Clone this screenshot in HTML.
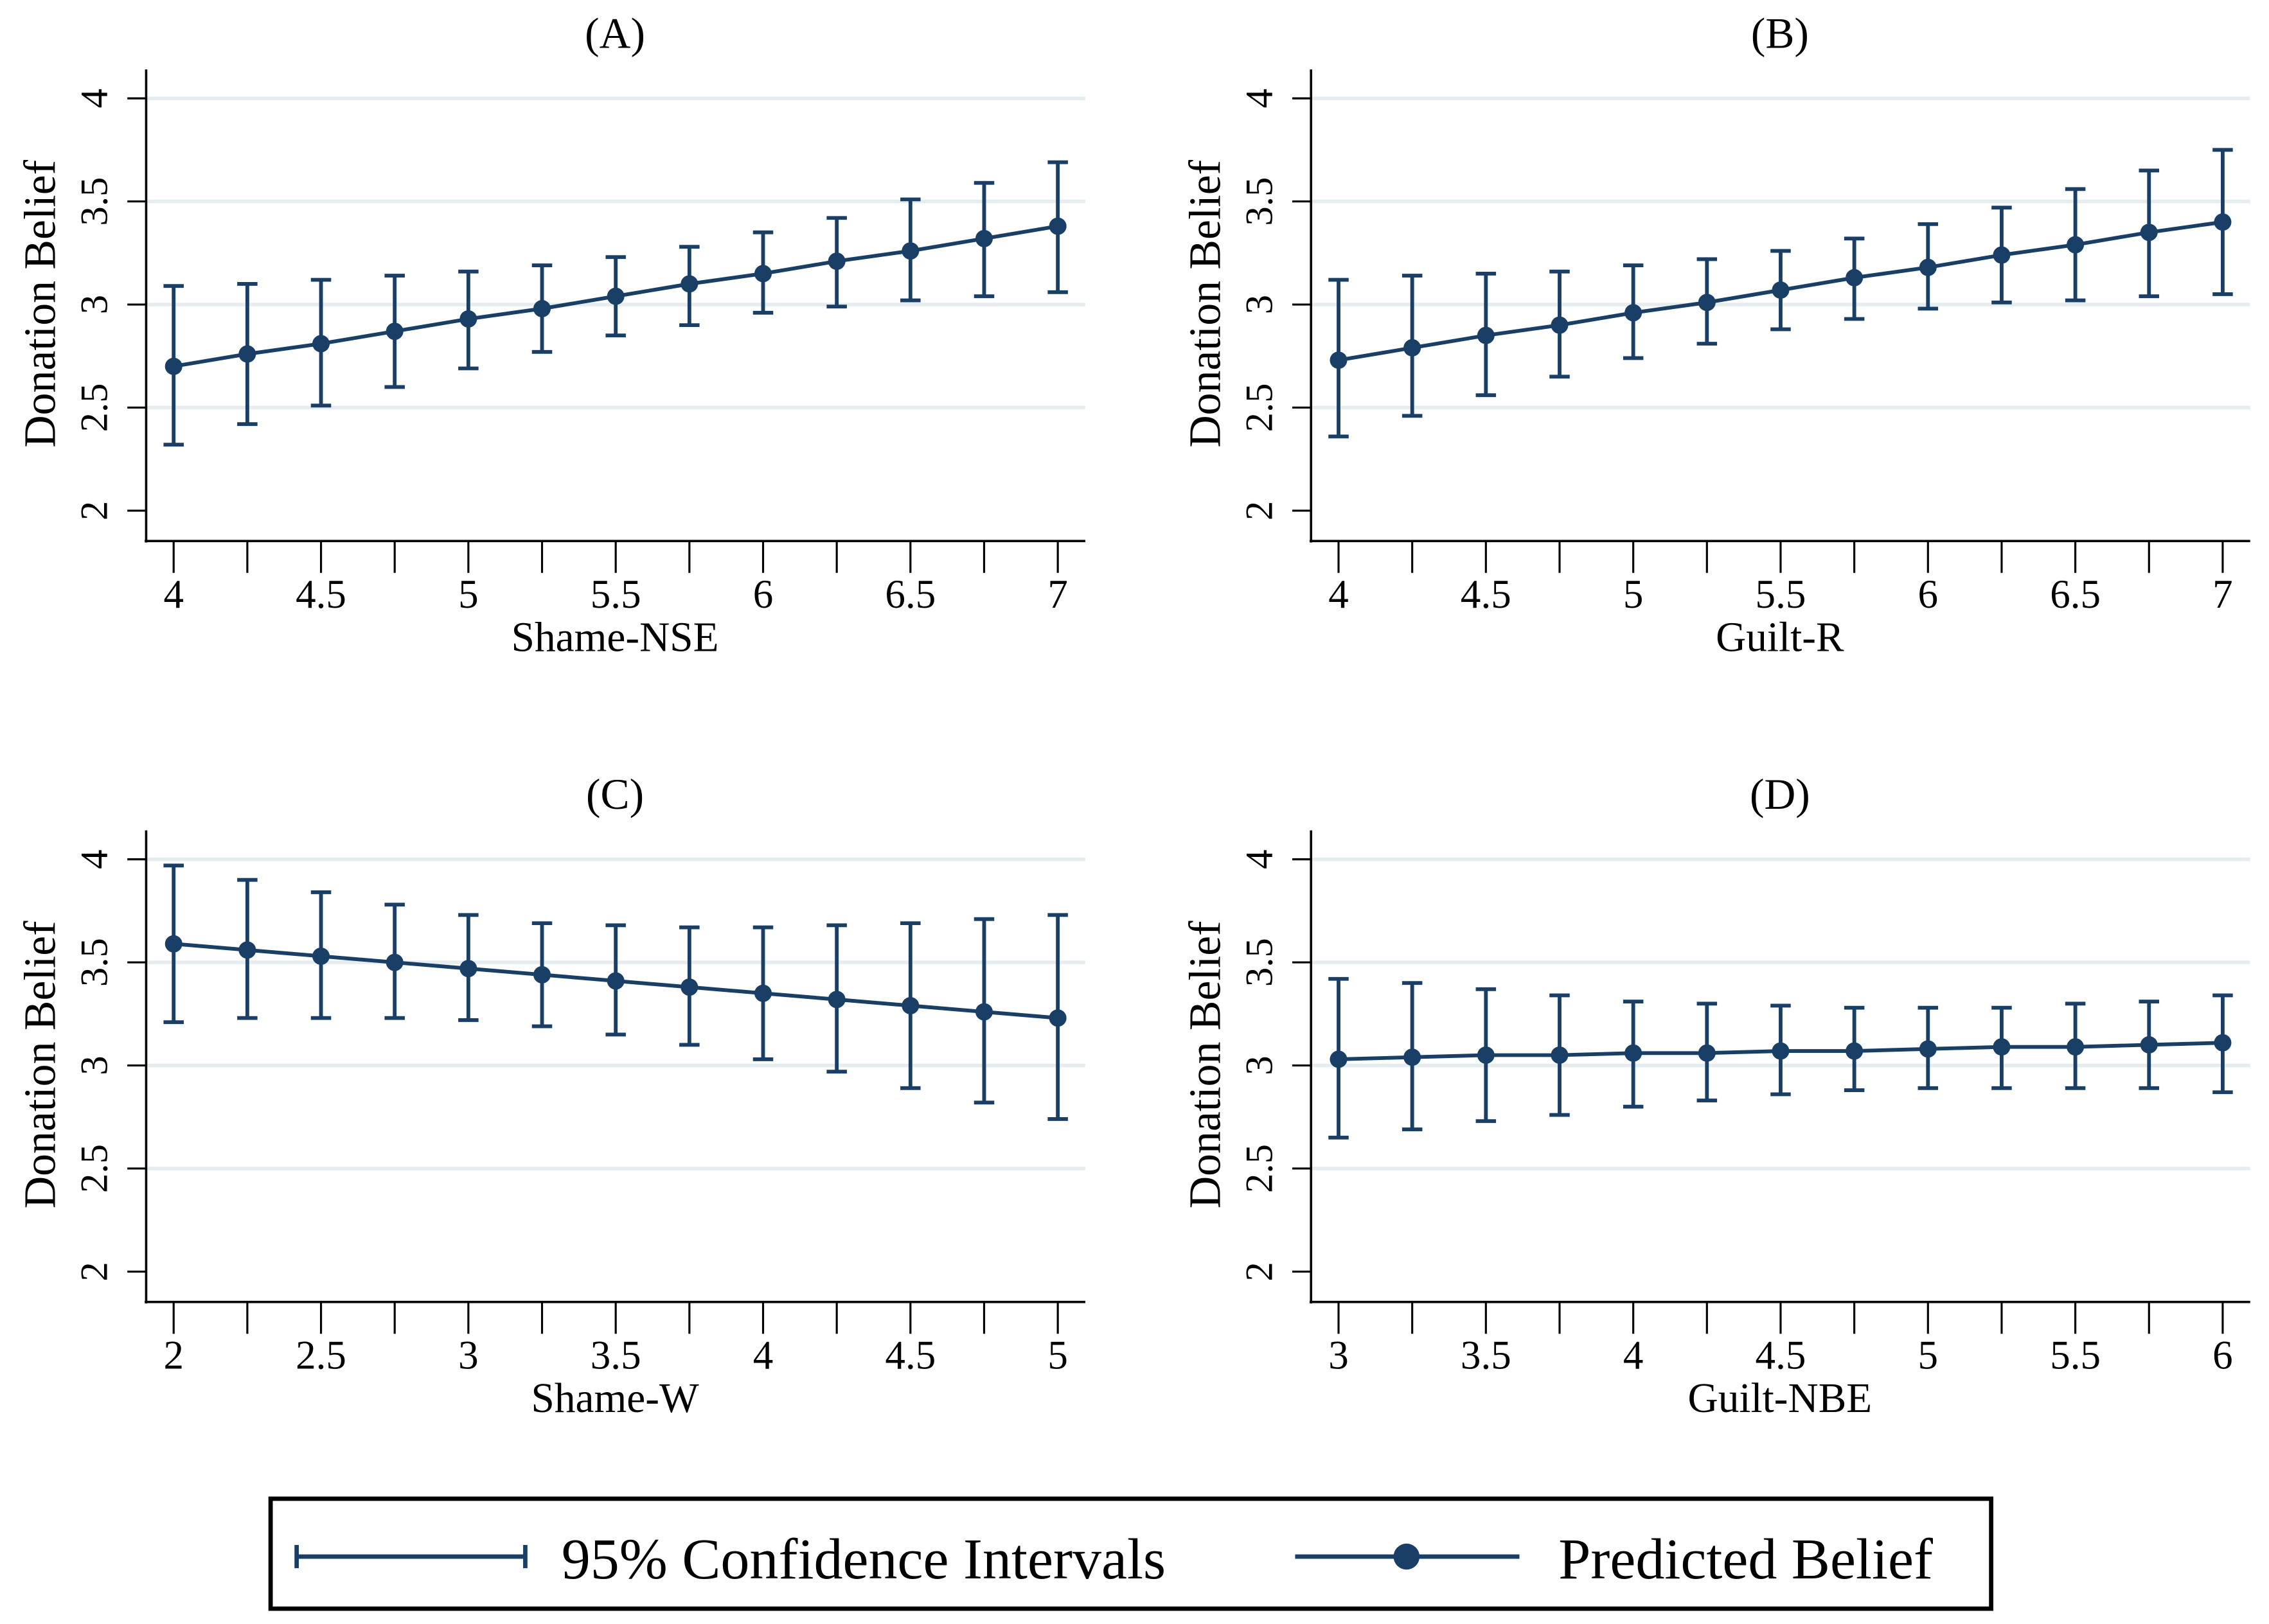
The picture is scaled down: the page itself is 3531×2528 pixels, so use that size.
<!DOCTYPE html>
<html><head><meta charset="utf-8"><style>
html,body{margin:0;padding:0;background:#fff;}
svg{display:block;}
text{font-family:"Liberation Serif",serif;fill:#000;}
</style></head><body>
<svg id="chart" width="3531" height="2528" viewBox="0 0 1568 1122.6" preserveAspectRatio="none" xmlns="http://www.w3.org/2000/svg">
<g>
<rect x="187" y="1036" width="1189" height="76" fill="#fff" stroke="#000" stroke-width="3"/>
<g stroke="#1a3f66" stroke-width="3">
<line x1="205" y1="1076" x2="363" y2="1076"/><line x1="205" y1="1068" x2="205" y2="1084"/><line x1="363" y1="1068" x2="363" y2="1084"/></g>
<text x="388" y="1091" font-size="40">95% Confidence Intervals</text>
<g><line x1="895" y1="1076" x2="1050" y2="1076" stroke="#1a3f66" stroke-width="3"/><circle cx="972" cy="1076" r="9" fill="#1a3f66"/></g>
<text x="1077" y="1091" font-size="40">Predicted Belief</text>
</g>
</svg>
<script>
const xValsA = [4,4.25,4.5,4.75,5,5.25,5.5,5.75,6,6.25,6.5,6.75,7];
const meanA = [2.70,2.76,2.81,2.87,2.93,2.98,3.04,3.10,3.15,3.21,3.26,3.32,3.38];
const upperA = [3.09,3.10,3.12,3.14,3.16,3.19,3.23,3.28,3.35,3.42,3.51,3.59,3.69];
const lowerA = [2.32,2.42,2.51,2.60,2.69,2.77,2.85,2.90,2.96,2.99,3.02,3.04,3.06];
const xTicksA = ["4","4.5","5","5.5","6","6.5","7"];
const xValsB = [4,4.25,4.5,4.75,5,5.25,5.5,5.75,6,6.25,6.5,6.75,7];
const meanB = [2.73,2.79,2.85,2.90,2.96,3.01,3.07,3.13,3.18,3.24,3.29,3.35,3.40];
const upperB = [3.12,3.14,3.15,3.16,3.19,3.22,3.26,3.32,3.39,3.47,3.56,3.65,3.75];
const lowerB = [2.36,2.46,2.56,2.65,2.74,2.81,2.88,2.93,2.98,3.01,3.02,3.04,3.05];
const xTicksB = ["4","4.5","5","5.5","6","6.5","7"];
const xValsC = [2,2.25,2.5,2.75,3,3.25,3.5,3.75,4,4.25,4.5,4.75,5];
const meanC = [3.59,3.56,3.53,3.50,3.47,3.44,3.41,3.38,3.35,3.32,3.29,3.26,3.23];
const upperC = [3.97,3.90,3.84,3.78,3.73,3.69,3.68,3.67,3.67,3.68,3.69,3.71,3.73];
const lowerC = [3.21,3.23,3.23,3.23,3.22,3.19,3.15,3.10,3.03,2.97,2.89,2.82,2.74];
const xTicksC = ["2","2.5","3","3.5","4","4.5","5"];
const xValsD = [3,3.25,3.5,3.75,4,4.25,4.5,4.75,5,5.25,5.5,5.75,6];
const meanD = [3.03,3.04,3.05,3.05,3.06,3.06,3.07,3.07,3.08,3.09,3.09,3.10,3.11];
const upperD = [3.42,3.40,3.37,3.34,3.31,3.30,3.29,3.28,3.28,3.28,3.30,3.31,3.34];
const lowerD = [2.65,2.69,2.73,2.76,2.80,2.83,2.86,2.88,2.89,2.89,2.89,2.89,2.87];
const xTicksD = ["3","3.5","4","4.5","5","5.5","6"];
const yTicks = [2,2.5,3,3.5,4];
const yTickLabels = ["2","2.5","3","3.5","4"];

const NS = "http://www.w3.org/2000/svg";
const svg = document.getElementById("chart");
const C = "#1a3f66";
function mk(tag, attrs, parent){const e=document.createElementNS(NS,tag);for(const k in attrs)e.setAttribute(k,attrs[k]);(parent||svg).appendChild(e);return e;}

function panel(key, title, xlabel, ox, oy, xs, mean, up, lo, xt){
  const g = mk("g",{});
  
  
  const left=ox+101, right=ox+750, top=oy+48, bottom=oy+374;
  const xmin=xs[0], xmax=xs[xs.length-1];
  const X = v => ox+120 + (v-xmin)/(xmax-xmin)*611;
  const Y = v => oy+353 - (v-2)/2*285;
  yTicks.forEach(v=>{ if(v>2){ const l=mk("line",{x1:left,x2:right,y1:Y(v),y2:Y(v),stroke:"#e6edf1","stroke-width":2.5},g);
    
    }});
  const ya=mk("line",{x1:left,x2:left,y1:top,y2:bottom+1,stroke:"#000","stroke-width":1.6},g);
  
  
  const xa=mk("line",{x1:left-1,x2:right,y1:bottom,y2:bottom,stroke:"#000","stroke-width":1.6},g);
  
  
  yTicks.forEach((v,i)=>{
    mk("line",{x1:left-13,x2:left,y1:Y(v),y2:Y(v),stroke:"#000","stroke-width":1.4},g);
    const t=mk("text",{x:0,y:0,"font-size":27,"text-anchor":"middle",transform:`translate(${ox+74},${Y(v)}) rotate(-90)`},g);
    t.textContent=yTickLabels[i];
    
    
  });
  xs.forEach(v=>{ mk("line",{x1:X(v),x2:X(v),y1:bottom,y2:bottom+22,stroke:"#000","stroke-width":1.4},g); });
  xt.forEach(s=>{
    const t=mk("text",{x:X(parseFloat(s)),y:oy+420,"font-size":28,"text-anchor":"middle"},g);
    t.textContent=s;
    
    
  });
  const tt=mk("text",{x:ox+425,y:oy+33,"font-size":30,"text-anchor":"middle"},g);
  tt.textContent=title;
  
  
  const xl=mk("text",{x:ox+425,y:oy+450,"font-size":29,"text-anchor":"middle"},g);
  xl.textContent=xlabel;
  
  
  const yl=mk("text",{x:0,y:0,"font-size":31,"text-anchor":"middle",transform:`translate(${ox+38},${oy+210}) rotate(-90)`},g);
  yl.textContent="Donation Belief";
  
  
  xs.forEach((v,i)=>{
    const eg=mk("g",{stroke:C,"stroke-width":2.6},g);
    
    
    mk("line",{x1:X(v),x2:X(v),y1:Y(up[i]),y2:Y(lo[i])},eg);
    mk("line",{x1:X(v)-7,x2:X(v)+7,y1:Y(up[i]),y2:Y(up[i])},eg);
    mk("line",{x1:X(v)-7,x2:X(v)+7,y1:Y(lo[i]),y2:Y(lo[i])},eg);
  });
  const pl=mk("polyline",{points:xs.map((v,i)=>X(v)+","+Y(mean[i])).join(" "),fill:"none",stroke:C,"stroke-width":2.6},g);
  
  
  xs.forEach((v,i)=>{
    const c=mk("circle",{cx:X(v),cy:Y(mean[i]),r:6,fill:C},g);
    
    
  });
}
panel("a","(A)","Shame-NSE",0,0,xValsA,meanA,upperA,lowerA,xTicksA);
panel("b","(B)","Guilt-R",805,0,xValsB,meanB,upperB,lowerB,xTicksB);
panel("c","(C)","Shame-W",0,526,xValsC,meanC,upperC,lowerC,xTicksC);
panel("d","(D)","Guilt-NBE",805,526,xValsD,meanD,upperD,lowerD,xTicksD);
</script>
</body></html>
